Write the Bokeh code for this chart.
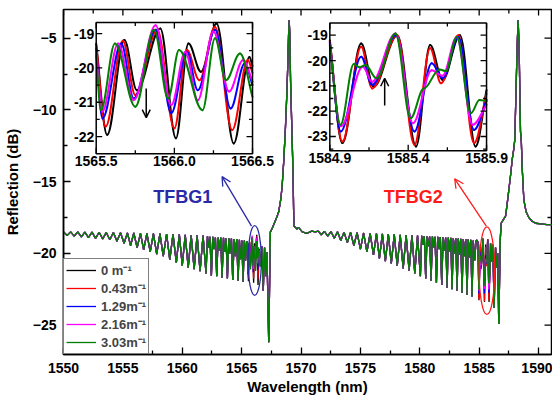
import numpy as np
from bokeh.plotting import figure
from bokeh.models import Range1d, FixedTicker, Legend, LegendItem, Arrow, OpenHead
from bokeh.embed import file_html
from bokeh.resources import INLINE
from bokeh.core.properties import value

FONT = "Liberation Sans"

# ---------------- data ----------------
series_labels = ["0 m\u207b\u00b9", "0.43m\u207b\u00b9", "1.29m\u207b\u00b9", "2.16m\u207b\u00b9", "3.03m\u207b\u00b9"]
series_colors = ["#000000", "#ff0000", "#0000ff", "#ff00ff", "#008000"]

# TFBG1 cladding-mode comb (wavelength nm, reflection dB), shared by all curves
comb1 = [(1550.0, -18.5), (1550.3, -18.75), (1550.6, -18.5), (1550.9, -18.8), (1551.2, -18.5),
         (1551.5, -18.85), (1551.8, -18.52), (1552.1, -18.9), (1552.4, -18.52), (1552.7, -18.95),
         (1553.0, -18.53), (1553.3, -19.0), (1553.6, -18.54), (1553.9, -19.05), (1554.2, -18.55),
         (1554.5, -19.15), (1554.8, -18.56), (1555.1, -19.3), (1555.38, -18.57), (1555.65, -19.45),
         (1555.92, -18.58), (1556.2, -19.6), (1556.48, -18.6), (1556.75, -19.75), (1557.02, -18.6),
         (1557.3, -19.9), (1557.57, -18.62), (1557.85, -20.05), (1558.12, -18.63), (1558.4, -20.2),
         (1558.68, -18.65), (1558.95, -20.45), (1559.22, -18.66), (1559.5, -20.65), (1559.75, -18.68),
         (1560.0, -20.85), (1560.25, -18.7), (1560.5, -21.0), (1560.75, -18.72), (1561.0, -21.1),
         (1561.25, -18.74), (1561.5, -21.25), (1561.75, -18.76), (1562.0, -21.4), (1562.12, -18.8),
         (1562.22, -19.6), (1562.33, -18.85), (1562.45, -21.55), (1562.57, -18.85), (1562.67, -19.7),
         (1562.79, -18.9), (1562.9, -21.6), (1563.02, -18.9), (1563.12, -19.8), (1563.24, -18.9),
         (1563.35, -21.7), (1563.47, -18.92), (1563.57, -19.9), (1563.69, -18.95), (1563.8, -21.75),
         (1563.92, -18.95), (1564.02, -20.0), (1564.14, -18.97), (1564.25, -21.85), (1564.37, -19.0),
         (1564.47, -20.2), (1564.59, -19.0), (1564.7, -21.9), (1564.81, -19.05), (1564.91, -20.4),
         (1565.02, -19.1), (1565.12, -22.0), (1565.23, -19.1), (1565.33, -20.5), (1565.43, -19.15)]

# inset 1 (1565.5-1566.5 nm): extrema of each curve
inset1_curves = [
    [(1565.5, -19.3), (1565.57, -21.95), (1565.68, -19.19), (1565.76, -20.65), (1565.91, -18.85),
     (1566.01, -22.05), (1566.09, -19.29), (1566.17, -20.11), (1566.27, -18.71), (1566.38, -22.2),
     (1566.48, -19.68), (1566.5, -19.95)],
    [(1565.5, -19.35), (1565.56, -21.71), (1565.67, -19.21), (1565.75, -20.79), (1565.89, -18.89),
     (1566.0, -21.76), (1566.08, -19.48), (1566.16, -20.36), (1566.26, -18.81), (1566.37, -21.81),
     (1566.47, -19.77), (1566.5, -20.15)],
    [(1565.5, -19.45), (1565.54, -21.47), (1565.66, -19.29), (1565.74, -20.89), (1565.88, -18.89),
     (1565.98, -21.32), (1566.08, -19.53), (1566.15, -20.65), (1566.26, -18.89), (1566.36, -21.18),
     (1566.45, -19.87), (1566.5, -20.5)],
    [(1565.5, -19.55), (1565.54, -21.27), (1565.64, -19.29), (1565.74, -20.94), (1565.88, -18.76),
     (1565.98, -21.08), (1566.07, -19.53), (1566.15, -20.94), (1566.25, -18.94), (1566.35, -20.69),
     (1566.44, -19.77), (1566.5, -20.4)],
    [(1565.5, -19.65), (1565.53, -21.23), (1565.62, -19.29), (1565.75, -21.13), (1565.87, -18.89),
     (1565.96, -20.89), (1566.03, -19.48), (1566.18, -21.23), (1566.26, -19.14), (1566.33, -20.36),
     (1566.42, -19.58), (1566.5, -20.85)],
]

# TFBG1 end of comb, Bragg peak and plateau
tail1 = [(1566.6, -20.9), (1566.7, -19.5), (1566.82, -22.6), (1566.93, -19.6), (1567.03, -21.6),
         (1567.13, -19.9), (1567.28, -26.2), (1567.42, -18.5), (1567.55, -18.3), (1567.75, -17.9),
         (1567.95, -17.5), (1568.12, -17.1), (1568.3, -16.2), (1568.41, -15.3), (1568.55, -13.5),
         (1568.69, -11.2), (1568.8, -9.0), (1568.88, -7.0), (1568.95, -4.8), (1569.0, -3.75),
         (1569.05, -4.6), (1569.12, -8.0), (1569.25, -12.0), (1569.33, -14.5), (1569.37, -16.7),
         (1569.4, -18.1), (1569.53, -18.2), (1569.65, -18.3), (1569.8, -18.2), (1570.1, -18.5),
         (1570.5, -18.6), (1570.9, -18.45), (1571.2, -18.5)]

# TFBG2 cladding-mode comb
comb2 = [(1571.45, -18.45), (1571.7, -18.7), (1571.97, -18.47), (1572.25, -18.8), (1572.52, -18.48),
         (1572.8, -18.95), (1573.07, -18.5), (1573.35, -19.1), (1573.62, -18.52), (1573.9, -19.25),
         (1574.17, -18.54), (1574.45, -19.45), (1574.72, -18.56), (1575.0, -19.7), (1575.27, -18.58),
         (1575.55, -19.9), (1575.82, -18.6), (1576.1, -20.1), (1576.35, -18.62), (1576.6, -20.35),
         (1576.85, -18.64), (1577.1, -20.55), (1577.35, -18.66), (1577.6, -20.7), (1577.85, -18.68),
         (1578.1, -20.88), (1578.35, -18.7), (1578.6, -21.05), (1578.85, -18.72), (1579.1, -21.2),
         (1579.34, -18.74), (1579.58, -21.4), (1579.81, -18.76), (1580.05, -21.6), (1580.16, -18.78),
         (1580.27, -19.4), (1580.38, -18.8), (1580.5, -21.75), (1580.61, -18.8), (1580.72, -19.5),
         (1580.83, -18.82), (1580.95, -21.9), (1581.06, -18.82), (1581.17, -19.6), (1581.28, -18.84),
         (1581.4, -22.05), (1581.51, -18.85), (1581.62, -19.7), (1581.73, -18.86), (1581.85, -22.2),
         (1581.96, -18.88), (1582.07, -19.8), (1582.18, -18.9), (1582.3, -22.4), (1582.4, -18.9),
         (1582.51, -19.9), (1582.61, -18.92), (1582.72, -22.5), (1582.82, -18.94), (1582.93, -20.0),
         (1583.03, -18.95), (1583.14, -22.6), (1583.24, -18.96), (1583.35, -20.1), (1583.45, -18.98),
         (1583.56, -22.75), (1583.66, -19.0), (1583.77, -20.2), (1583.87, -19.0), (1583.98, -22.9),
         (1584.08, -19.02), (1584.19, -20.3), (1584.29, -19.05), (1584.4, -23.0), (1584.5, -19.1),
         (1584.62, -20.5), (1584.74, -19.1), (1584.84, -19.1)]

# inset 2 (1584.9-1585.9 nm): extrema of each curve
inset2_curves = [
    [(1584.9, -19.2), (1584.98, -23.26), (1585.1, -19.33), (1585.18, -21.03), (1585.33, -19.0),
     (1585.45, -23.39), (1585.54, -19.39), (1585.62, -20.77), (1585.73, -19.0), (1585.83, -23.39),
     (1585.9, -21.16)],
    [(1584.9, -19.25), (1584.98, -23.2), (1585.1, -19.46), (1585.17, -21.1), (1585.33, -19.0),
     (1585.44, -23.33), (1585.54, -19.52), (1585.61, -20.9), (1585.72, -19.0), (1585.82, -23.26),
     (1585.9, -21.3)],
    [(1584.9, -19.3), (1584.97, -22.8), (1585.1, -19.85), (1585.17, -20.97), (1585.32, -19.0),
     (1585.44, -22.8), (1585.55, -20.11), (1585.62, -20.7), (1585.72, -19.07), (1585.82, -22.74),
     (1585.9, -21.56)],
    [(1584.9, -19.35), (1584.97, -22.6), (1585.11, -20.25), (1585.17, -20.84), (1585.32, -18.93),
     (1585.43, -22.48), (1585.55, -20.38), (1585.62, -20.6), (1585.71, -19.07), (1585.81, -22.54),
     (1585.9, -21.75)],
    [(1584.9, -19.4), (1584.968, -22.54), (1585.053, -20.14), (1585.09, -20.27), (1585.128, -20.18),
     (1585.198, -20.7), (1585.319, -18.93), (1585.415, -22.28), (1585.5, -21.1), (1585.6, -20.35),
     (1585.64, -20.42), (1585.71, -19.07), (1585.8, -22.08), (1585.855, -21.56), (1585.9, -21.6)],
]

# TFBG2 end of comb, Bragg peak and plateau
tail2 = [(1585.96, -19.3), (1586.05, -20.6), (1586.15, -19.4), (1586.26, -23.8), (1586.38, -19.6),
         (1586.48, -21.0), (1586.56, -20.0), (1586.65, -24.93), (1586.78, -19.0), (1586.85, -17.9),
         (1587.0, -17.7), (1587.22, -17.4), (1587.35, -16.6), (1587.5, -15.56), (1587.65, -14.5),
         (1587.78, -13.47), (1587.9, -12.8), (1588.0, -12.08), (1588.12, -8.13), (1588.2, -5.5),
         (1588.28, -3.75), (1588.36, -5.5), (1588.42, -8.5), (1588.48, -11.5), (1588.55, -12.2),
         (1588.62, -14.0), (1588.76, -16.25), (1588.95, -17.1), (1589.18, -17.5), (1589.45, -17.75),
         (1589.75, -17.9), (1590.2, -17.95), (1590.7, -18.0), (1591.2, -18.0)]

x_ticks = [1550, 1555, 1560, 1565, 1570, 1575, 1580, 1585, 1590]
x_minor = [1552.5, 1557.5, 1562.5, 1567.5, 1572.5, 1577.5, 1582.5, 1587.5]
y_ticks = [-25, -20, -15, -10, -5]
y_minor = [-22.5, -17.5, -12.5, -7.5]

inset1_xticks = [1565.5, 1566.0, 1566.5]
inset1_xlabels = ["1565.5", "1566.0", "1566.5"]
inset1_xminor = [1565.75, 1566.25]
inset1_yticks = [-22, -21, -20, -19]
inset1_yminor = [-21.5, -20.5, -19.5]

inset2_xticks = [1584.9, 1585.4, 1585.9]
inset2_xlabels = ["1584.9", "1585.4", "1585.9"]
inset2_xminor = [1585.15, 1585.65]
inset2_yticks = [-23, -22, -21, -20, -19]
inset2_yminor = [-23.5, -22.5, -21.5, -20.5, -19.5]

# ---------------- figure ----------------
XR = (1550.0, 1591.09)
YR = (-27.05, -3.0)
W, H = 552, 397
BL, BR, BT, BB = 63, 1, 9, 42
FW, FH = W - BL - BR, H - BT - BB
PX_X = FW / (XR[1] - XR[0])
PX_Y = FH / (YR[1] - YR[0])

p = figure(width=W, height=H, x_range=Range1d(*XR), y_range=Range1d(*YR),
           output_backend="svg", toolbar_location=None,
           min_border_left=BL, min_border_right=BR, min_border_top=BT, min_border_bottom=BB)
p.xgrid.visible = False
p.ygrid.visible = False
p.outline_line_color = "black"
p.outline_line_width = 1.5
p.background_fill_color = "white"
p.border_fill_color = "white"


def style_axis(ax, ticks, minor):
    ax.ticker = FixedTicker(ticks=ticks, minor_ticks=minor)
    ax.axis_line_color = "black"
    ax.axis_line_width = 1.5
    ax.major_tick_in = 7
    ax.major_tick_out = 0
    ax.minor_tick_in = 4
    ax.minor_tick_out = 0
    ax.major_tick_line_width = 1.3
    ax.minor_tick_line_width = 1.3
    ax.major_label_text_font = FONT
    ax.major_label_text_font_style = "bold"
    ax.major_label_text_font_size = "14px"
    ax.major_label_text_color = "black"
    ax.axis_label_text_font = FONT
    ax.axis_label_text_font_style = "bold"
    ax.axis_label_text_font_size = "15px"
    ax.axis_label_text_color = "black"


xa = p.xaxis[0]
style_axis(xa, x_ticks, x_minor)
xa.axis_label = "Wavelength (nm)"
xa.major_label_standoff = 8
xa.axis_label_standoff = 2

ya = p.yaxis[0]
style_axis(ya, y_ticks, y_minor)
ya.axis_label = "Reflection (dB)"
ya.major_label_standoff = 7
ya.axis_label_standoff = 9

# mirrored inward ticks on top and right frame edges
tx0, ty0, tx1, ty1 = [], [], [], []
for x, L in [(x, 6) for x in x_ticks] + [(x, 4) for x in x_minor]:
    tx0.append(x); ty0.append(YR[1]); tx1.append(x); ty1.append(YR[1] - L / PX_Y)
for y, L in [(y, 7) for y in y_ticks] + [(y, 4) for y in y_minor]:
    tx0.append(XR[1]); ty0.append(y); tx1.append(XR[1] - L / PX_X); ty1.append(y)
p.segment(x0=tx0, y0=ty0, x1=tx1, y1=ty1, line_color="black", line_width=1.3)

# ---------------- main curves ----------------
line_renderers = []
for i, color in enumerate(series_colors):
    pts = comb1 + inset1_curves[i] + tail1 + comb2 + inset2_curves[i] + tail2
    xs = [q[0] for q in pts]
    ys = [q[1] for q in pts]
    r = p.line(xs, ys, line_color=color, line_width=1.3)
    line_renderers.append(r)

# ellipses, arrows and labels
p.ellipse(x=[1566.1], y=[-20.5], width=[1.12], height=[4.86], fill_alpha=0,
          line_color="#2a2aa8", line_width=1.3)
p.ellipse(x=[1585.65], y=[-21.2], width=[1.31], height=[6.1], fill_alpha=0,
          line_color="#ff1a1a", line_width=1.3)
p.add_layout(Arrow(end=OpenHead(size=9, line_color="#2a2aa8", line_width=1.3),
                   x_start=1565.83, y_start=-18.1, x_end=1563.35, y_end=-14.65,
                   line_color="#2a2aa8", line_width=1.3))
p.add_layout(Arrow(end=OpenHead(size=9, line_color="#ff1a1a", line_width=1.3),
                   x_start=1585.6, y_start=-18.1, x_end=1582.94, y_end=-14.8,
                   line_color="#ff1a1a", line_width=1.3))
p.text(x=[1560.05], y=[-16.1], text=["TFBG1"], text_color="#2a2aa8",
       text_font=value(FONT), text_font_style="bold", text_font_size="18px",
       text_align="center", text_baseline="middle")
p.text(x=[1579.45], y=[-16.1], text=["TFBG2"], text_color="#ff1a1a",
       text_font=value(FONT), text_font_style="bold", text_font_size="18px",
       text_align="center", text_baseline="middle")

# ---------------- insets ----------------
def bezier_data(pts, k=0.36):
    a = np.array(pts, dtype=float)
    x0, y0, x1, y1 = a[:-1, 0], a[:-1, 1], a[1:, 0], a[1:, 1]
    dx = x1 - x0
    cx0 = x0 + k * dx
    cx1 = x1 - k * dx
    cy0 = y0.copy()
    cy1 = y1.copy()
    cy0[0] = y0[0] + k * (y1[0] - y0[0])
    cy1[-1] = y1[-1] - k * (y1[-1] - y0[-1])
    return dict(x0=x0, y0=y0, x1=x1, y1=y1, cx0=cx0, cy0=cy0, cx1=cx1, cy1=cy1)


def make_inset(src_x, src_y, tgt_x, tgt_y, curves, xt, xl, xm, yt, ym, arrow):
    sub = p.subplot(x_source=Range1d(*src_x), y_source=Range1d(*src_y),
                    x_target=Range1d(*tgt_x), y_target=Range1d(*tgt_y))
    ppx = (tgt_x[1] - tgt_x[0]) * PX_X / (src_x[1] - src_x[0])
    ppy = (tgt_y[1] - tgt_y[0]) * PX_Y / (src_y[1] - src_y[0])
    sub.quad(left=[src_x[0]], right=[src_x[1]], bottom=[src_y[0]], top=[src_y[1]],
             fill_color="white", line_color=None)
    for pts, color in zip(curves, series_colors):
        d = bezier_data(pts)
        sub.bezier(line_color=color, line_width=2, line_cap="round", **d)
    sx0, sx1, sy0, sy1 = [], [], [], []
    def seg(a, b, c, d_):
        sx0.append(a); sy0.append(b); sx1.append(c); sy1.append(d_)
    for x, L in [(x, 6) for x in xt] + [(x, 3.5) for x in xm]:
        seg(x, src_y[0], x, src_y[0] + L / ppy)
        seg(x, src_y[1], x, src_y[1] - L / ppy)
    for y, L in [(y, 6) for y in yt] + [(y, 3.5) for y in ym]:
        seg(src_x[0], y, src_x[0] + L / ppx, y)
        seg(src_x[1], y, src_x[1] - L / ppx, y)
    sub.segment(x0=sx0, y0=sy0, x1=sx1, y1=sy1, line_color="black", line_width=1.3)
    sub.quad(left=[src_x[0]], right=[src_x[1]], bottom=[src_y[0]], top=[src_y[1]],
             fill_alpha=0, line_color="black", line_width=1.5)
    sub.text(x=xt, y=[src_y[0]] * len(xt), text=xl, text_font=value(FONT),
             text_font_style="bold", text_font_size="14px", text_align="center",
             text_baseline="top", y_offset=2, text_color="black")
    sub.text(x=[src_x[0]] * len(yt), y=yt, text=[f"{v:d}" for v in yt], text_font=value(FONT),
             text_font_style="bold", text_font_size="14px", text_align="right",
             text_baseline="middle", x_offset=-2, text_color="black")
    ax_, ay0, ay1 = arrow
    def mx(x):
        return tgt_x[0] + (x - src_x[0]) * (tgt_x[1] - tgt_x[0]) / (src_x[1] - src_x[0])
    def my(y):
        return tgt_y[0] + (y - src_y[0]) * (tgt_y[1] - tgt_y[0]) / (src_y[1] - src_y[0])
    p.add_layout(Arrow(end=OpenHead(size=8, line_color="black", line_width=1.5),
                       x_start=mx(ax_), y_start=my(ay0), x_end=mx(ax_), y_end=my(ay1),
                       line_color="black", line_width=1.5))


make_inset((1565.5, 1566.5), (-22.50, -18.68), (1552.754, 1565.916), (-13.056, -3.910),
           inset1_curves, inset1_xticks, inset1_xlabels, inset1_xminor,
           inset1_yticks, inset1_yminor, (1565.82, -20.6, -21.45))
make_inset((1584.9, 1585.9), (-23.563, -18.516), (1572.425, 1585.621), (-12.847, -3.9375),
           inset2_curves, inset2_xticks, inset2_xlabels, inset2_xminor,
           inset2_yticks, inset2_yminor, (1585.25, -21.78, -20.7))

# ---------------- legend ----------------
legend = Legend(items=[LegendItem(label=lab, renderers=[r]) for lab, r in zip(series_labels, line_renderers)],
                location=(0, 0), margin=0, padding=2, spacing=0,
                glyph_width=30, glyph_height=14, label_height=14, label_standoff=5,
                label_text_font=FONT, label_text_font_style="bold", label_text_font_size="13px",
                border_line_color="black", border_line_width=1.5,
                background_fill_color="white", background_fill_alpha=1)
p.add_layout(legend, "center")

open("out.html", "w").write(file_html(p, INLINE))
